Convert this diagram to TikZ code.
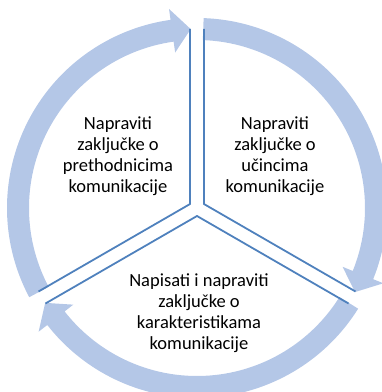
\documentclass[tikz,border=0pt]{standalone}
\usepackage{fontspec}
\setmainfont{Carlito}
\usetikzlibrary{calc,positioning}
\definecolor{ringblue}{HTML}{B4C7E7}
\definecolor{lineblue}{HTML}{4F81BD}

\begin{document}
\begin{tikzpicture}[x=1pt,y=1pt,line join=round,
  ring/.style={fill=ringblue},
  divider/.style={draw=lineblue,line width=1.8pt},
  txt/.style={align=center,font=\fontsize{18.5}{20.8}\selectfont,inner sep=0pt}]
\useasboundingbox (0,0) rectangle (382,392);
\coordinate (O) at (197,184);
\foreach \s/\t in {208/92,88/-28,-32/-148}{
  \pgfmathsetmacro{\b}{\t+6}
  \fill[ring] ($(O)+(\s:190)$) arc[start angle=\s,end angle=\b,radius=190]
    -- ($(O)+(\b:201)$) -- ($(O)+(\t:179)$) -- ($(O)+(\b:157)$)
    -- ($(O)+(\b:168)$) arc[start angle=\b,end angle=\s,radius=168] -- cycle;
}
\coordinate (PL) at ($(O)+(150:8)$);
\coordinate (PR) at ($(O)+(30:8)$);
\coordinate (PB) at ($(O)+(270:8)$);
\foreach \p/\a/\c in {PL/90/210,PR/90/-30,PB/210/-30}{
  \draw[divider] ($(\p)+(\a:175)$) -- (\p) -- ($(\p)+(\c:175)$);
}
\node[txt] (prethodnici) at ($(O)+(-79,52)$) {Napraviti\\zaključke o\\prethodnicima\\komunikacije};
\node[txt] (ucinci) at ($(O)+(78,52)$) {Napraviti\\zaključke o\\učincima\\komunikacije};
\node[txt] (karakteristike) at ($(O)+(2,-105)$) {Napisati i napraviti\\zaključke o\\karakteristikama\\komunikacije};
\end{tikzpicture}
\end{document}
